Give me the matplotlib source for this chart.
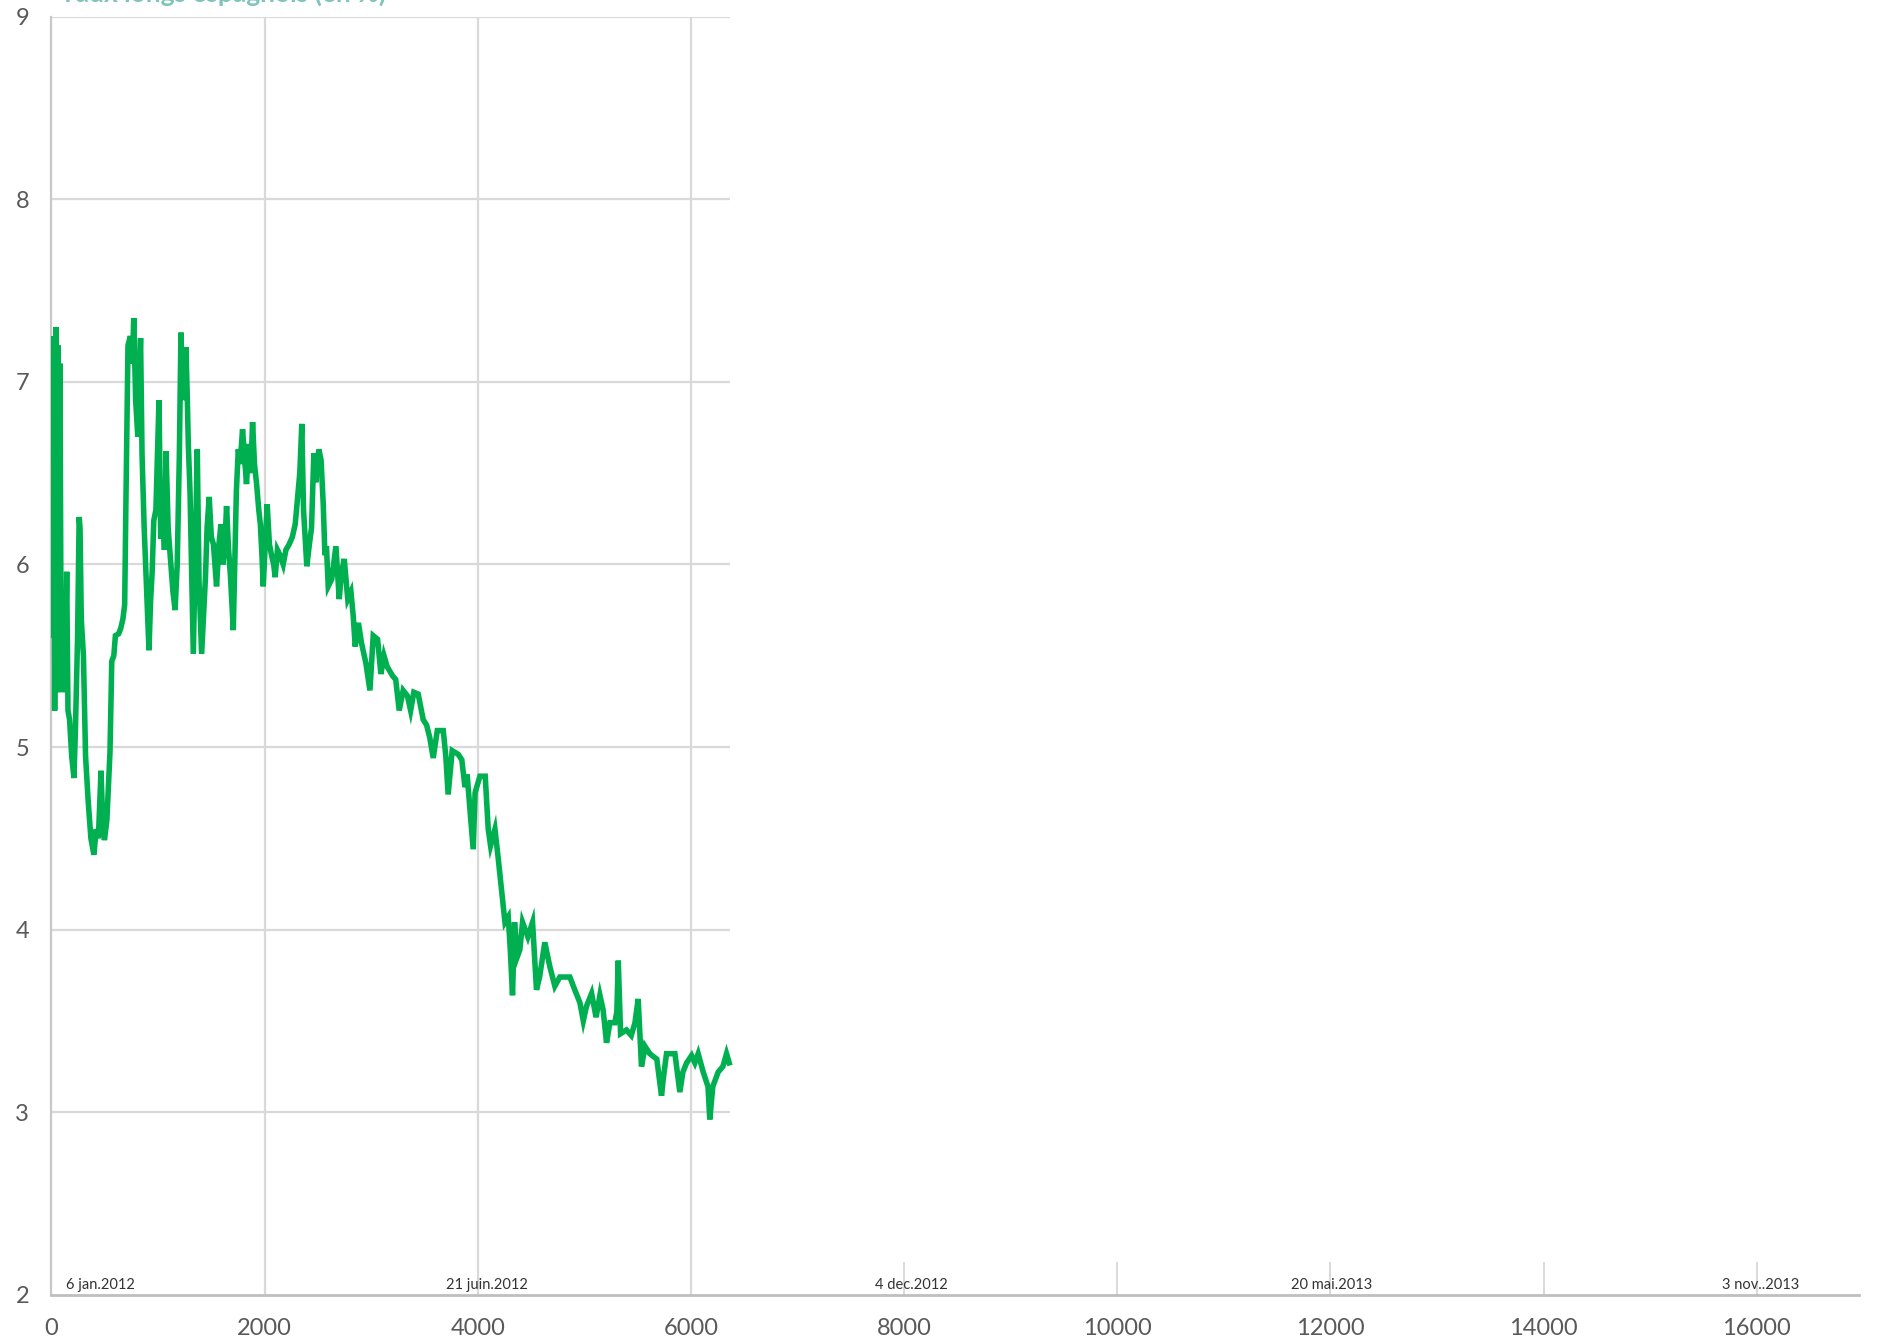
"""Spanish long rate series drawn on a wide numeric x axis."""

import matplotlib
matplotlib.use('Agg')
import matplotlib.pyplot as plt

plt.rcParams['font.family'] = ['Lato', 'DejaVu Sans']

obs = [0, 10, 20, 30, 41, 50, 60, 70, 80, 90, 100, 115, 125, 143, 155,
       170, 190, 211, 225, 245, 260, 268, 280, 300, 320, 345, 370, 398, 420,
       440, 465, 480, 497, 520, 549, 566, 585, 600, 630, 650, 670, 687, 700,
       718, 740, 760, 772, 790, 810, 836, 850, 870, 890, 915, 930, 945, 960,
       980, 1009, 1025, 1040, 1060, 1075, 1095, 1110, 1140, 1160, 1180, 1200,
       1215, 1230, 1245, 1262, 1275, 1284, 1300, 1315, 1331, 1350, 1368, 1385,
       1409, 1430, 1445, 1460, 1480, 1500, 1520, 1549, 1570, 1590, 1610, 1630,
       1643, 1660, 1680, 1706, 1720, 1735, 1753, 1770, 1793, 1810, 1830, 1850,
       1870, 1887, 1905, 1925, 1945, 1960, 1975, 1987, 2005, 2024, 2045, 2065,
       2085, 2099, 2120, 2145, 2174, 2200, 2230, 2260, 2287, 2310, 2330, 2349,
       2365, 2380, 2396, 2420, 2440, 2462, 2480, 2495, 2509, 2530, 2550, 2566,
       2580, 2597, 2630, 2669, 2700, 2720, 2747, 2780, 2810, 2831, 2850, 2880,
       2909, 2950, 2988, 3019, 3060, 3091, 3120, 3150, 3200, 3230, 3263, 3300,
       3340, 3370, 3400, 3441, 3488, 3520, 3550, 3582, 3620, 3676, 3700, 3722,
       3760, 3816, 3850, 3880, 3900, 3957, 3975, 4020, 4070, 4098, 4120, 4161,
       4190, 4223, 4255, 4286, 4305, 4326, 4345, 4370, 4395, 4420, 4470, 4514,
       4551, 4580, 4629, 4675, 4723, 4770, 4864, 4910, 4958, 4990, 5020, 5068,
       5110, 5146, 5176, 5208, 5240, 5286, 5305, 5318, 5340, 5395, 5440, 5475,
       5505, 5536, 5570, 5614, 5680, 5724, 5740, 5771, 5850, 5896, 5925, 5960,
       6006, 6037, 6068, 6115, 6160, 6177, 6205, 6256, 6300, 6334, 6359]
rate = [7.15, 5.6, 7.25, 5.2, 7.30, 5.5, 7.2, 5.3, 7.1, 5.6, 5.4, 5.8, 5.3, 5.96,
        5.2, 5.15, 4.95, 4.83, 5.1, 5.6, 6.26, 6.2, 5.7, 5.5, 4.95, 4.7, 4.5,
        4.41, 4.55, 4.5, 4.87, 4.6, 4.49, 4.6, 4.97, 5.47, 5.5, 5.61, 5.62, 5.65,
        5.7, 5.78, 6.4, 7.2, 7.25, 7.1, 7.35, 6.9, 6.7, 7.24, 6.6, 6.2, 5.9,
        5.53, 5.8, 5.96, 6.24, 6.3, 6.9, 6.14, 6.4, 6.08, 6.62, 6.2, 6.08, 5.85,
        5.75, 6.0, 6.6, 7.27, 6.9, 7.0, 7.19, 6.9, 6.66, 6.4, 5.97, 5.51, 6.1,
        6.63, 5.9, 5.51, 5.75, 5.93, 6.2, 6.37, 6.15, 6.11, 5.88, 6.1, 6.22, 6.0,
        6.15, 6.32, 6.1, 5.93, 5.64, 6.0, 6.4, 6.63, 6.55, 6.74, 6.6, 6.44, 6.66,
        6.5, 6.78, 6.55, 6.44, 6.3, 6.22, 6.05, 5.88, 6.1, 6.33, 6.11, 6.05, 6.0,
        5.93, 6.08, 6.05, 6.0, 6.08, 6.11, 6.15, 6.22, 6.37, 6.5, 6.77, 6.3,
        6.15, 5.99, 6.11, 6.2, 6.61, 6.45, 6.55, 6.63, 6.57, 6.33, 6.05, 6.1,
        5.88, 5.92, 6.10, 5.81, 5.95, 6.03, 5.81, 5.85, 5.72, 5.55, 5.68, 5.57,
        5.46, 5.31, 5.61, 5.59, 5.40, 5.50, 5.44, 5.39, 5.37, 5.20, 5.31, 5.28,
        5.20, 5.30, 5.29, 5.15, 5.12, 5.05, 4.94, 5.09, 5.09, 4.95, 4.74, 4.98,
        4.96, 4.93, 4.78, 4.85, 4.44, 4.75, 4.84, 4.84, 4.55, 4.46, 4.55, 4.40,
        4.22, 4.04, 4.07, 3.89, 3.64, 4.04, 3.85, 3.89, 4.04, 3.96, 4.04, 3.67,
        3.74, 3.93, 3.80, 3.69, 3.74, 3.74, 3.67, 3.60, 3.50, 3.58, 3.65, 3.52,
        3.64, 3.56, 3.38, 3.49, 3.49, 3.55, 3.83, 3.43, 3.45, 3.42, 3.49, 3.62,
        3.25, 3.36, 3.32, 3.29, 3.09, 3.18, 3.32, 3.32, 3.11, 3.22, 3.27, 3.31,
        3.27, 3.32, 3.22, 3.14, 2.96, 3.14, 3.22, 3.25, 3.32, 3.27]

x_ticks = [0, 2000, 4000, 6000, 8000, 10000, 12000, 14000, 16000]
y_ticks = [2, 3, 4, 5, 6, 7, 8, 9]
date_labels = ['6 jan.2012', '21 juin.2012', '4 dec.2012', '20 mai.2013', '3 nov..2013']
date_x = [135, 4090, 8067, 12011, 16034]
title = "Taux longs espagnols (en %)"

GREEN = '#00B050'
GRID = '#D9D9D9'
TXT = '#595959'


def main():
    fig = plt.figure(figsize=(18.78, 13.40), dpi=100)
    ax = fig.add_axes([0.0274, 0.0338, 0.9625, 0.9537])
    ax.set_xlim(0, 16960)
    ax.set_ylim(2, 9)
    x_end = obs[-1] + 10

    # gridded box only covers the span of the old chart
    ax.hlines(y_ticks[1:], 0, x_end, color=GRID, lw=1.6, zorder=1)
    ax.vlines([t for t in x_ticks if 0 < t <= x_end], 2, 9, color=GRID, lw=1.6, zorder=1)
    ax.vlines([t for t in x_ticks if t > x_end], 2, 2.18, color=GRID, lw=1.4, zorder=1)

    ax.plot(obs, rate, color=GREEN, lw=4, solid_joinstyle='miter', zorder=3)

    for s in ['top', 'right']:
        ax.spines[s].set_visible(False)
    ax.spines['left'].set_color('#C8C8C8')
    ax.spines['bottom'].set_color('#BFBFBF')
    ax.spines['left'].set_linewidth(1.6)
    ax.spines['bottom'].set_linewidth(2)

    ax.set_xticks(x_ticks)
    ax.set_yticks(y_ticks)
    ax.tick_params(axis='both', length=0, labelsize=17, labelcolor=TXT)
    ax.tick_params(axis='x', pad=17)
    ax.tick_params(axis='y', pad=16)

    for lab, xd in zip(date_labels, date_x):
        ha = 'left' if xd == date_x[0] else 'center'
        ax.text(xd, 2.015, lab, ha=ha, va='bottom', fontsize=10.5, color='#333333')

    # title of the source chart sits above the crop: only its bottom shows
    fig.text(0.032, 1 - 1.5 / 1340, title, ha='left', va='baseline',
             fontsize=19, color='#2A9D8F', fontweight='bold', alpha=0.6)

    fig.savefig('out.png', dpi=100)


main()
